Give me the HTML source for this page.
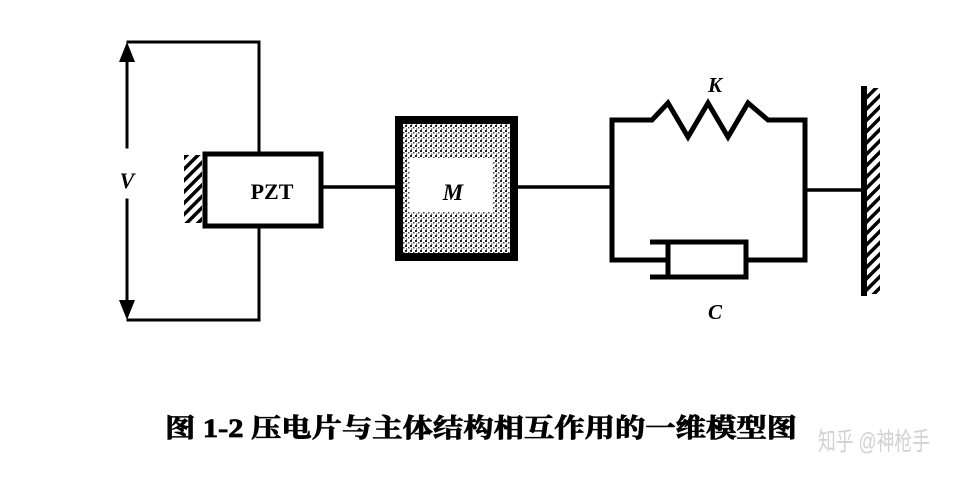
<!DOCTYPE html>
<html><head><meta charset="utf-8"><style>
html,body{margin:0;padding:0;background:#fff;}
svg{display:block;}
</style></head><body>
<svg width="953" height="483" viewBox="0 0 953 483" xmlns="http://www.w3.org/2000/svg">
<defs>
<pattern id="dots" width="5" height="5" patternUnits="userSpaceOnUse">
<rect width="5" height="5" fill="#fff"/>
<rect x="0" y="0" width="2" height="2" fill="#222"/>
<rect x="3" y="2" width="1.5" height="1.5" fill="#444"/>
<rect x="1" y="3.5" width="1.2" height="1.2" fill="#333"/>
</pattern>
<pattern id="hatch" width="8" height="8" patternUnits="userSpaceOnUse" patternTransform="rotate(45)">
<rect width="8" height="8" fill="#fff"/>
<rect x="0" y="0" width="3.5" height="8" fill="#000"/>
</pattern>
</defs>
<g stroke="#000" fill="none" stroke-linecap="square">
<polyline points="128,42 259,42 259,152" stroke-width="3"/>
<polyline points="128,320 259,320 259,228" stroke-width="3"/>
<line x1="127" y1="58" x2="127" y2="147" stroke-width="3"/>
<line x1="127" y1="200" x2="127" y2="300" stroke-width="3"/>
</g>
<polygon points="127,42 119,62 135,62" fill="#000"/>
<polygon points="127,320 119,300 135,300" fill="#000"/>
<text x="127" y="188" font-family="Liberation Serif, serif" font-weight="bold" font-style="italic" font-size="22" text-anchor="middle">V</text>
<rect x="184" y="155" width="18" height="68" fill="url(#hatch)"/>
<rect x="205" y="154" width="116" height="72" fill="#fff" stroke="#000" stroke-width="5"/>
<text x="272" y="199" font-family="Liberation Serif, serif" font-weight="bold" font-size="22" text-anchor="middle">PZT</text>
<line x1="323" y1="187" x2="397" y2="187" stroke="#000" stroke-width="3.5"/>
<rect x="399" y="120" width="115" height="137" fill="url(#dots)" stroke="#000" stroke-width="8"/>
<rect x="410" y="158" width="82" height="54" fill="#fff"/>
<text x="453" y="200" font-family="Liberation Serif, serif" font-weight="bold" font-style="italic" font-size="23" text-anchor="middle">M</text>
<line x1="518" y1="187" x2="612" y2="187" stroke="#000" stroke-width="3.5"/>
<g stroke="#000" fill="none" stroke-width="5" stroke-linejoin="miter">
<polyline points="612,187 612,120 652,120 668,103 688,137 708,103 728,137 748,103 768,120 805,120 805,260 746,260"/>
<polyline points="612,187 612,260 668,260"/>
<polyline points="650,242 746,242 746,277 668,277 668,242"/>
<line x1="650" y1="277" x2="668" y2="277"/>
</g>
<line x1="805" y1="190" x2="864" y2="190" stroke="#000" stroke-width="3.5"/>
<text x="715" y="92" font-family="Liberation Serif, serif" font-weight="bold" font-style="italic" font-size="21" text-anchor="middle">K</text>
<text x="715" y="319" font-family="Liberation Serif, serif" font-weight="bold" font-style="italic" font-size="21" text-anchor="middle">C</text>
<rect x="866" y="88" width="14" height="206" fill="url(#hatch)"/>
<rect x="861" y="86" width="6" height="210" fill="#000"/>
<text x="165" y="437" font-family="Liberation Serif, 'Noto Serif CJK SC', serif" font-weight="bold" font-size="26" stroke="#000" stroke-width="0.8" textLength="632" lengthAdjust="spacingAndGlyphs">图 1-2 压电片与主体结构相互作用的一维模型图</text>
<text x="818" y="450" font-family="Liberation Sans, 'Noto Sans CJK SC', sans-serif" font-size="25" fill="#d2d2d2" textLength="112" lengthAdjust="spacingAndGlyphs">知乎 @神枪手</text>
</svg>
</body></html>
